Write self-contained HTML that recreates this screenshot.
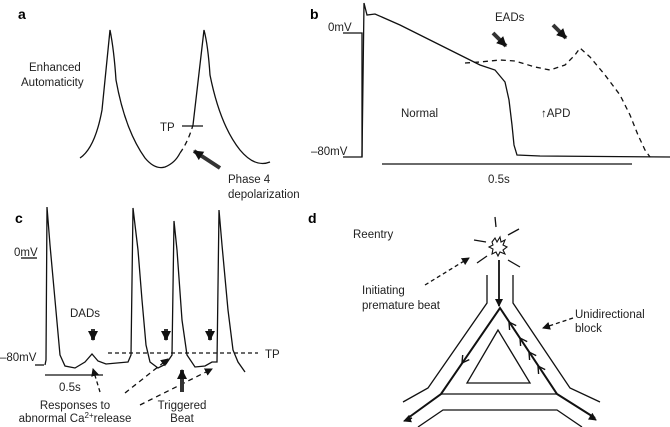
<!DOCTYPE html>
<html><head><meta charset="utf-8"><style>
html,body{margin:0;padding:0;background:#fff;}
svg{display:block;}
text{font-family:"Liberation Sans",sans-serif;font-size:11.5px;fill:#222;}
.b{font-weight:bold;font-size:14px;fill:#000;}
</style></head><body>
<svg width="670" height="427" viewBox="0 0 670 427">
<defs>
<marker id="ah" markerWidth="8" markerHeight="8" refX="7" refY="4" orient="auto" markerUnits="userSpaceOnUse"><path d="M0,0 L8,4 L0,8 Z" fill="#111"/></marker>
<marker id="ah2" markerWidth="10" markerHeight="10" refX="9" refY="5" orient="auto" markerUnits="userSpaceOnUse"><path d="M0,0 L10,5 L0,10 Z" fill="#111"/></marker>
</defs>
<g fill="none" stroke="#111" stroke-width="1.3">
<!-- a -->
<path d="M80,158 Q95,148 102,110 Q107,60 110,30 Q114,50 116,80 Q125,130 145,158 Q155,170 165,167 Q175,163 180,153"/>
<path d="M180,153 Q188,142 193,125" stroke-dasharray="5,4"/>
<path d="M193,125 Q198,80 204,30 Q208,45 210,75 Q220,125 240,150 Q255,168 270,162"/>
<line x1="182" y1="126" x2="203" y2="126"/>
<!-- b -->
<path d="M343,33 H362 V157 H343"/>
<path d="M362,157 L364,3 L367,15 L375,14 L400,25 L430,40 L460,55 L480,65 L495,70 L505,82 L509,100 L512,125 L514,145 L517,155 L540,156 L670,157"/>
<path d="M465,63 L480,62 L500,60 L515,61 L535,67 L550,70 L565,65 L575,55 L580,48 L590,57 L605,75 L620,95 L630,115 L638,135 L645,150 L650,157" stroke-dasharray="5,4"/>
<line x1="382" y1="164" x2="632" y2="164"/>
<!-- c -->
<path d="M21,258 H37"/>
<path d="M44,365 H35"/>
<path d="M45,365 L46,360 L47,207 L50,245 L55,300 L60,355 L65,366 L75,368 L85,362 L92,354 L98,361 L106,364 L128,362 L131,355 L133,208 L138,250 L142,300 L146,345 L150,362 L158,368 L166,364 L172,355 L174,221 L177,250 L182,320 L187,355 L195,367 L205,366 L212,362 L217,362 L219,210 L222,245 L228,310 L233,350 L238,362 L245,372"/>
<line x1="108" y1="353" x2="258" y2="353" stroke-dasharray="4,3"/>
<line x1="45" y1="375" x2="103" y2="375"/>
<path d="M100,392 L93,369" stroke-dasharray="4,3" marker-end="url(#ah)"/>
<path d="M125,393 L168,359" stroke-dasharray="5,4" marker-end="url(#ah)"/>
<path d="M140,405 L212,369" stroke-dasharray="5,4" marker-end="url(#ah)"/>
<!-- d -->
<line x1="495" y1="217" x2="496" y2="227"/>
<line x1="474" y1="240" x2="486" y2="242"/>
<line x1="508" y1="235" x2="519" y2="229"/>
<line x1="477" y1="263" x2="487" y2="256"/>
<line x1="508" y1="260" x2="520" y2="267"/>
<path d="M492,242 L495,238 L497,242 L500,237 L501,242 L505,240 L503,245 L507,247 L503,250 L505,254 L500,252 L498,256 L496,252 L492,254 L493,249 L489,247 L493,245 Z" stroke-width="1.1"/>
<line x1="499" y1="260" x2="499" y2="306" stroke-width="1.8" marker-end="url(#ah)"/>
<path d="M487,275 V303 L428,388 L403,402"/>
<path d="M513,275 V303 L570,388 L600,402"/>
<path d="M408,418 L441,394 L500,308 L557,394 L595,418" stroke-width="2"/>
<path d="M441,394 L557,394"/>
<path d="M418,427 L443,410 H557 L582,427"/>
<path d="M498,330 L467,383 L530,383 Z"/>
<g stroke-width="1.4">
<path d="M516.2,325.6 L509,322 L509.6,330"/>
<path d="M527.2,341.6 L520,338 L520.6,346"/>
<path d="M536.2,355.6 L529,352 L529.6,360"/>
<path d="M545.2,369.6 L538,366 L538.6,374"/>
<path d="M469.3,359.6 L462,363 L462.7,355"/>
</g>
<path d="M425,285 L469,258" stroke-dasharray="4,3" marker-end="url(#ah)"/>
<path d="M573,318 L543,328" stroke-dasharray="4,3" marker-end="url(#ah)"/>
</g>
<g fill="none" stroke="#111" stroke-width="1.5">
<line x1="412" y1="418" x2="404" y2="421" marker-end="url(#ah)"/>
<line x1="590" y1="416" x2="596" y2="420" marker-end="url(#ah)"/>
</g>
<g stroke="#333" stroke-width="4" fill="none">
<line x1="220" y1="168" x2="194" y2="151" marker-end="url(#ah2)"/>
<line x1="493" y1="33" x2="506" y2="46" marker-end="url(#ah2)"/>
<line x1="553" y1="25" x2="566" y2="38" marker-end="url(#ah2)"/>
<line x1="93" y1="329" x2="93" y2="340" marker-end="url(#ah2)"/>
<line x1="166" y1="329" x2="166" y2="340" marker-end="url(#ah2)"/>
<line x1="210" y1="329" x2="210" y2="340" marker-end="url(#ah2)"/>
<line x1="182" y1="392" x2="182" y2="370" marker-end="url(#ah2)"/>
</g>
<text class="b" x="18" y="19">a</text>
<text class="b" x="310" y="19">b</text>
<text class="b" x="15" y="223">c</text>
<text class="b" x="308" y="223">d</text>
<text x="29" y="71">Enhanced</text>
<text x="21" y="86">Automaticity</text>
<text x="160" y="131">TP</text>
<text x="228" y="183">Phase 4</text>
<text x="228" y="198">depolarization</text>
<text x="328" y="31">0mV</text>
<text x="311" y="155">–80mV</text>
<text x="495" y="21">EADs</text>
<text x="401" y="117">Normal</text>
<text x="541" y="117">↑APD</text>
<text x="488" y="183">0.5s</text>
<text x="14" y="256">0mV</text>
<text x="0" y="361">–80mV</text>
<text x="70" y="317">DADs</text>
<text x="265" y="358">TP</text>
<text x="59" y="391">0.5s</text>
<text x="75" y="409" text-anchor="middle">Responses to</text>
<text x="75" y="422" text-anchor="middle">abnormal Ca<tspan font-size="8" dy="-4">2+</tspan><tspan dy="4">release</tspan></text>
<text x="182" y="409" text-anchor="middle">Triggered</text>
<text x="182" y="422" text-anchor="middle">Beat</text>
<text x="353" y="238">Reentry</text>
<text x="362" y="294">Initiating</text>
<text x="362" y="309">premature beat</text>
<text x="575" y="318">Unidirectional</text>
<text x="575" y="332">block</text>
</svg>
</body></html>
